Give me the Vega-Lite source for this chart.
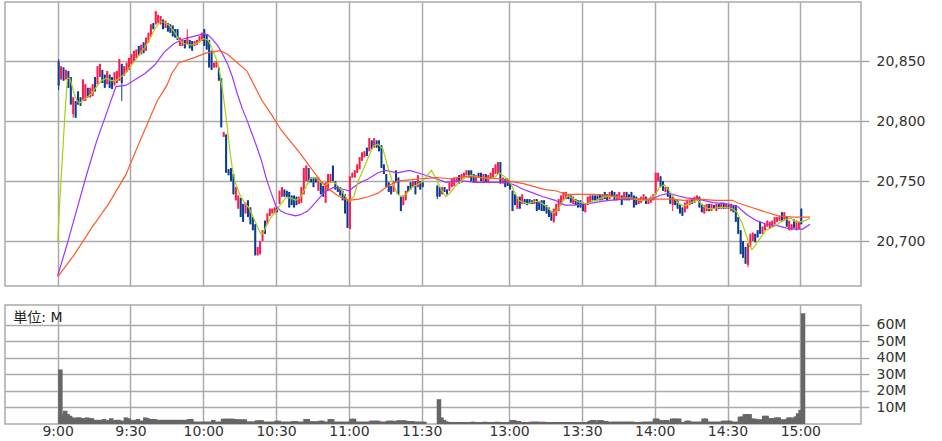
{
  "$schema": "https://vega.github.io/schema/vega-lite/v6.json",
  "padding": {"left": 4, "top": 1, "right": 0, "bottom": 0},
  "background": "white",
  "data": {
    "values": "t,o,h,l,c,v\n0,20850,20852,20826,20830,33\n1,20835,20846,20835,20846,6\n2,20845,20845,20834,20834,8\n3,20835,20843,20835,20843,6\n4,20842,20842,20828,20828,5\n5,20837,20837,20814,20814,4\n6,20806,20820,20803,20820,3.5\n7,20817,20817,20803,20803,4\n8,20825,20825,20814,20814,4\n9,20820,20820,20813,20813,3.5\n10,20817,20835,20817,20835,3.5\n11,20817,20831,20817,20831,4\n12,20828,20828,20820,20820,3.5\n13,20820,20828,20820,20828,3.5\n14,20821,20831,20821,20831,2.5\n15,20837,20837,20825,20825,2.5\n16,20831,20846,20831,20846,2.5\n17,20837,20848,20837,20848,2.5\n18,20843,20843,20832,20832,3\n19,20839,20839,20828,20828,2\n20,20831,20842,20831,20842,2.5\n21,20839,20839,20828,20828,3.5\n22,20837,20837,20827,20827,2\n23,20830,20841,20830,20841,2.5\n24,20832,20842,20832,20842,2.5\n25,20834,20852,20834,20852,2\n26,20848,20848,20817,20832,2\n27,20838,20846,20838,20846,4\n28,20841,20849,20841,20849,3.5\n29,20843,20853,20843,20853,2.5\n30,20848,20856,20848,20856,2\n31,20850,20859,20850,20859,2.5\n32,20853,20860,20853,20860,3\n33,20863,20863,20855,20855,2\n34,20856,20864,20856,20864,2\n35,20866,20866,20857,20857,4\n36,20859,20870,20859,20870,3.5\n37,20866,20874,20866,20874,3\n38,20871,20881,20871,20881,3\n39,20882,20882,20877,20877,3\n40,20881,20892,20881,20892,2.5\n41,20882,20889,20882,20889,2.5\n42,20881,20888,20881,20888,2.5\n43,20885,20885,20877,20877,2.5\n44,20878,20884,20878,20884,2.5\n45,20882,20882,20875,20875,2.5\n46,20881,20881,20874,20874,2.5\n47,20880,20880,20871,20871,2.5\n48,20877,20877,20870,20870,2.5\n49,20877,20877,20868,20868,2.5\n50,20863,20870,20863,20870,2.5\n51,20863,20868,20863,20868,2.5\n52,20868,20868,20861,20861,2.5\n53,20864,20877,20864,20870,3\n54,20868,20868,20861,20861,3\n55,20867,20867,20859,20859,1.4\n56,20863,20867,20863,20867,1.4\n57,20864,20868,20864,20868,1.4\n58,20866,20871,20866,20871,1.4\n59,20867,20874,20867,20874,1.4\n60,20877,20877,20863,20863,1.4\n61,20873,20873,20860,20860,1.4\n62,20868,20868,20845,20845,1.4\n63,20859,20859,20843,20843,2.4\n64,20845,20849,20845,20849,1.4\n65,20845,20850,20845,20850,1.4\n66,20845,20845,20834,20834,1.4\n67,20836,20836,20795,20795,3.2\n68,20787,20791,20787,20791,3.2\n69,20789,20789,20757,20757,3.2\n70,20760,20760,20755,20755,3.2\n71,20761,20761,20750,20750,3.2\n72,20756,20756,20739,20739,3\n73,20734,20745,20734,20745,2.8\n74,20727,20738,20727,20738,2.8\n75,20736,20736,20720,20720,2.8\n76,20731,20731,20716,20716,2.8\n77,20723,20732,20723,20732,1.5\n78,20734,20734,20720,20720,1.5\n79,20728,20728,20714,20714,1.5\n80,20720,20720,20709,20709,1.5\n81,20714,20714,20688,20688,2.2\n82,20688,20695,20688,20695,2.2\n83,20689,20700,20689,20700,2.2\n84,20700,20709,20700,20709,1.4\n85,20717,20717,20706,20706,1.4\n86,20714,20723,20714,20723,1.4\n87,20721,20727,20721,20727,1.4\n88,20723,20727,20723,20727,1.4\n89,20723,20728,20723,20728,2\n90,20728,20728,20724,20724,2\n91,20731,20742,20731,20742,1.4\n92,20737,20745,20737,20745,1.4\n93,20743,20743,20737,20737,1.4\n94,20742,20742,20737,20737,1.4\n95,20741,20741,20728,20728,1.4\n96,20738,20738,20730,20730,1.8\n97,20738,20738,20728,20728,1.8\n98,20737,20737,20730,20730,1.4\n99,20731,20737,20731,20737,1.4\n100,20732,20745,20732,20745,1.4\n101,20739,20761,20739,20761,3\n102,20750,20763,20750,20763,3\n103,20761,20761,20749,20749,1.6\n104,20753,20753,20749,20749,1.6\n105,20753,20753,20745,20745,1.6\n106,20753,20753,20749,20749,1.6\n107,20742,20753,20742,20753,2\n108,20749,20749,20739,20739,2\n109,20746,20746,20737,20737,1.4\n110,20732,20749,20732,20749,1.4\n111,20742,20756,20742,20756,3\n112,20749,20756,20749,20756,3\n113,20763,20763,20750,20750,1.4\n114,20750,20750,20743,20743,1.4\n115,20746,20746,20741,20741,1.4\n116,20745,20745,20738,20738,1.4\n117,20742,20742,20734,20734,1.4\n118,20739,20739,20723,20723,1.4\n119,20734,20734,20711,20711,1.4\n120,20710,20754,20710,20754,3.2\n121,20753,20757,20753,20757,3.2\n122,20753,20759,20753,20759,1.4\n123,20757,20764,20757,20764,1.4\n124,20760,20770,20760,20770,1.4\n125,20767,20774,20767,20774,1.4\n126,20770,20775,20770,20775,1.4\n127,20778,20778,20771,20771,1.4\n128,20775,20786,20775,20786,2\n129,20784,20784,20777,20777,2\n130,20778,20786,20778,20786,2\n131,20784,20784,20778,20778,2\n132,20784,20784,20775,20775,1.4\n133,20780,20780,20761,20761,1.4\n134,20764,20764,20756,20756,1.4\n135,20756,20756,20745,20745,2\n136,20749,20749,20741,20741,2\n137,20746,20746,20739,20739,2\n138,20741,20750,20741,20750,1.4\n139,20759,20759,20749,20749,2.2\n140,20753,20753,20739,20739,2.2\n141,20737,20737,20725,20725,2.2\n142,20730,20738,20730,20738,2.2\n143,20734,20742,20734,20742,1.8\n144,20746,20746,20741,20741,1.8\n145,20749,20749,20743,20743,1.8\n146,20745,20750,20745,20750,1.4\n147,20750,20750,20739,20739,1.4\n148,20745,20755,20745,20755,1.4\n149,20750,20750,20743,20743,1.4\n150,20749,20749,20745,20745,1.4\n156,20746,20747,20735,20737,15\n157,20745,20745,20737,20737,4\n158,20739,20745,20739,20745,2.5\n159,20745,20745,20741,20741,1.6\n160,20743,20743,20739,20739,1.2\n161,20742,20749,20742,20749,1.2\n162,20745,20752,20745,20752,1.2\n163,20746,20753,20746,20753,1.2\n164,20749,20753,20749,20753,1.2\n165,20755,20755,20748,20748,1.2\n166,20749,20756,20749,20756,1.2\n167,20753,20757,20753,20757,1.2\n168,20755,20759,20755,20759,1.2\n169,20759,20759,20753,20753,1.2\n170,20759,20759,20750,20750,1.4\n171,20756,20756,20749,20749,1.2\n172,20749,20755,20749,20755,1.2\n173,20757,20757,20753,20753,1.2\n174,20757,20757,20750,20750,1.2\n175,20749,20756,20749,20756,1.4\n176,20756,20756,20749,20749,1.2\n177,20749,20755,20749,20755,1.2\n178,20752,20757,20752,20757,1.2\n179,20753,20761,20753,20761,1.2\n180,20756,20764,20756,20764,1.4\n181,20756,20766,20756,20766,1.2\n182,20766,20766,20748,20748,1.2\n183,20748,20753,20748,20753,1.2\n184,20752,20752,20745,20745,1.2\n185,20752,20752,20746,20746,1.2\n186,20750,20750,20743,20743,2.4\n187,20742,20742,20725,20725,2.4\n188,20739,20739,20730,20730,1.8\n189,20727,20737,20727,20737,1.8\n190,20737,20737,20727,20727,1.2\n191,20731,20739,20731,20739,1.2\n192,20735,20735,20731,20731,1.2\n193,20735,20735,20730,20730,1.2\n194,20735,20735,20731,20731,1.4\n195,20734,20734,20731,20731,1.4\n196,20731,20735,20731,20735,1.4\n197,20735,20735,20725,20725,1.4\n198,20733,20733,20726,20726,1.2\n199,20734,20734,20725,20725,1.4\n200,20734,20734,20725,20725,1.2\n201,20730,20730,20723,20723,1.2\n202,20728,20728,20720,20720,1.2\n203,20725,20725,20717,20717,1.2\n204,20716,20727,20715,20727,1.2\n205,20721,20731,20721,20731,1.2\n206,20725,20735,20725,20735,1.2\n207,20730,20738,20730,20738,1.2\n208,20734,20741,20734,20741,1.2\n209,20735,20741,20735,20741,1.2\n210,20739,20739,20735,20735,1.2\n211,20738,20738,20732,20732,1.2\n212,20731,20737,20731,20737,1.2\n213,20735,20735,20730,20730,1.2\n214,20734,20734,20728,20728,1.2\n215,20734,20734,20728,20728,1.2\n216,20732,20732,20725,20725,1.2\n217,20724,20731,20724,20731,1.2\n218,20730,20737,20730,20737,1.8\n219,20732,20738,20732,20738,2.4\n220,20738,20738,20734,20734,2.4\n221,20738,20738,20734,20734,1.4\n222,20738,20738,20734,20734,2.4\n223,20739,20739,20734,20734,2.4\n224,20734,20739,20734,20739,1.8\n225,20741,20741,20735,20735,1.8\n226,20739,20739,20734,20734,1.2\n227,20735,20741,20735,20741,1.4\n228,20742,20742,20737,20737,1.4\n229,20741,20741,20734,20734,1.4\n230,20734,20739,20734,20739,1.4\n231,20735,20741,20735,20741,1.4\n232,20738,20738,20730,20730,1.4\n233,20734,20741,20734,20741,1.4\n234,20741,20741,20734,20734,1.4\n235,20739,20739,20734,20734,1.4\n236,20741,20741,20735,20735,1.4\n237,20738,20738,20728,20728,1.2\n238,20737,20737,20730,20730,1.2\n239,20731,20735,20731,20735,1.2\n240,20732,20737,20732,20737,1.4\n241,20734,20739,20734,20739,1.4\n242,20737,20737,20731,20731,1.4\n243,20731,20735,20731,20735,1.4\n244,20732,20737,20732,20737,1.4\n245,20734,20739,20734,20739,3.3\n246,20739,20757,20739,20757,3.3\n247,20750,20757,20750,20757,2.4\n248,20754,20754,20745,20745,1.8\n249,20750,20750,20742,20742,2.4\n250,20741,20745,20741,20745,2.4\n251,20745,20745,20737,20737,1.4\n252,20739,20739,20731,20731,3.3\n253,20730,20737,20725,20737,3.3\n254,20735,20735,20730,20730,3.3\n255,20734,20734,20727,20727,3.3\n256,20731,20731,20723,20723,1.2\n257,20728,20728,20721,20721,1.2\n258,20724,20732,20724,20732,2\n259,20727,20734,20727,20734,2\n260,20730,20734,20730,20734,1.4\n261,20735,20735,20731,20731,1.4\n262,20732,20737,20732,20737,1.4\n263,20734,20738,20734,20738,1.4\n264,20737,20737,20728,20728,1.4\n265,20731,20731,20724,20724,3.3\n266,20723,20730,20723,20730,3.3\n267,20725,20731,20725,20731,1.4\n268,20731,20731,20725,20725,1.4\n269,20725,20731,20725,20731,1.4\n270,20730,20730,20727,20727,1.4\n271,20725,20731,20725,20731,1.4\n272,20731,20731,20727,20727,1.4\n273,20727,20732,20727,20732,2\n274,20732,20732,20727,20727,2\n275,20727,20731,20727,20731,2\n276,20730,20730,20727,20727,2\n277,20725,20731,20725,20731,1.4\n278,20730,20730,20724,20724,1.4\n279,20730,20730,20716,20716,1.4\n280,20720,20720,20706,20706,4.5\n281,20709,20709,20689,20689,4.5\n282,20700,20700,20686,20686,6\n283,20695,20695,20681,20681,6\n284,20680,20698,20678,20698,6\n285,20695,20706,20695,20706,3.3\n286,20700,20707,20700,20707,3.3\n287,20706,20706,20699,20699,2.8\n288,20709,20709,20703,20703,2.8\n289,20716,20716,20706,20706,2.8\n290,20706,20712,20706,20712,5\n291,20709,20714,20709,20714,5\n292,20712,20717,20712,20717,3.5\n293,20710,20716,20710,20716,3.5\n294,20712,20717,20712,20717,3.5\n295,20714,20720,20714,20720,4\n296,20716,20720,20716,20720,4\n297,20717,20721,20717,20721,2.8\n298,20724,20724,20717,20717,2.8\n299,20718,20724,20718,20724,2.8\n300,20720,20720,20712,20712,4\n301,20709,20717,20709,20717,4\n302,20709,20714,20709,20714,3.3\n303,20718,20718,20711,20711,4.6\n304,20709,20717,20709,20717,6.5\n305,20710,20716,20710,20716,8.5\n306,20727,20727,20714,20714,67",
    "format": {"type": "csv", "parse": {"t": "number", "o": "number", "h": "number", "l": "number", "c": "number", "v": "number"}}
  },
  "spacing": 17,
  "vconcat": [
    {
      "width": 856,
      "height": 284,
      "encoding": {
        "x": {
          "field": "t", "type": "quantitative",
          "scale": {"domain": [-21.7, 331.0], "nice": false, "zero": false, "padding": 0},
          "axis": {"values": [0, 30, 60, 90, 120, 150, 186, 216, 246, 276, 306], "labels": false, "ticks": false, "domain": false, "grid": true, "title": null}
        }
      },
      "layer": [
        {
          "mark": {"type": "rule", "xOffset": 1, "strokeWidth": 1},
          "encoding": {
            "y": {
              "field": "l", "type": "quantitative",
              "scale": {"domain": [20662.4, 20899.7], "nice": false, "zero": false, "padding": 0},
              "axis": {"orient": "right", "values": [20700, 20750, 20800, 20850], "labelExpr": "format(datum.value, ',')", "tickSize": 8, "labelPadding": 7, "grid": true, "title": null, "labelOverlap": false}
            },
            "y2": {"field": "h"},
            "color": {"condition": {"test": "datum.c >= datum.o", "value": "#ff1a4a"}, "value": "#0b3a94"}
          }
        },
        {
          "mark": {"type": "bar", "size": 2, "xOffset": 1},
          "encoding": {
            "y": {
              "field": "o", "type": "quantitative",
              "axis": {"orient": "right", "values": [20700, 20750, 20800, 20850], "labelExpr": "format(datum.value, ',')", "tickSize": 8, "labelPadding": 7, "grid": true, "title": null, "labelOverlap": false}
            },
            "y2": {"field": "c"},
            "color": {"condition": {"test": "datum.c >= datum.o", "value": "#ff1a4a"}, "value": "#0b3a94"}
          }
        },
        {
          "data": {
            "values": "t,s,p\n0,MA25,20671\n4,MA25,20698\n8,MA25,20727\n12,MA25,20756\n16,MA25,20783\n20,MA25,20806\n24,MA25,20829\n28,MA25,20830\n32,MA25,20835\n36,MA25,20840\n40,MA25,20847\n44,MA25,20858\n48,MA25,20865\n52,MA25,20869\n56,MA25,20871\n60,MA25,20873\n62,MA25,20872\n64,MA25,20868\n66,MA25,20863\n68,MA25,20856\n70,MA25,20848\n72,MA25,20837\n74,MA25,20823\n76,MA25,20811\n78,MA25,20801\n80,MA25,20790\n82,MA25,20779\n84,MA25,20767\n86,MA25,20752\n88,MA25,20740\n90,MA25,20729\n92,MA25,20725\n94,MA25,20723\n96,MA25,20722\n98,MA25,20721\n100,MA25,20722\n103,MA25,20725\n107,MA25,20734\n110,MA25,20741\n114,MA25,20745\n118,MA25,20743\n120,MA25,20742\n124,MA25,20748\n128,MA25,20752\n132,MA25,20757\n135,MA25,20759\n140,MA25,20757\n145,MA25,20759\n150,MA25,20756\n156,MA25,20752\n160,MA25,20749\n164,MA25,20750\n168,MA25,20750\n172,MA25,20749\n176,MA25,20749\n180,MA25,20749\n185,MA25,20749\n188,MA25,20747\n192,MA25,20743\n196,MA25,20740\n200,MA25,20737\n205,MA25,20734\n209,MA25,20730\n213,MA25,20730\n217,MA25,20731\n221,MA25,20732\n227,MA25,20734\n234,MA25,20735\n240,MA25,20735\n245,MA25,20735\n248,MA25,20738\n252,MA25,20740\n255,MA25,20738\n259,MA25,20736\n264,MA25,20735\n270,MA25,20732\n276,MA25,20731\n280,MA25,20729\n284,MA25,20722\n288,MA25,20717\n292,MA25,20714\n296,MA25,20713\n300,MA25,20711\n304,MA25,20710\n307,MA25,20710\n310,MA25,20714\n0,MA5,20699\n1,MA5,20737\n2,MA5,20772\n3,MA5,20806\n4,MA5,20836\n5,MA5,20836\n6,MA5,20829\n7,MA5,20822\n8,MA5,20817\n9,MA5,20815\n10,MA5,20817\n12,MA5,20820\n14,MA5,20823\n16,MA5,20829\n18,MA5,20834\n20,MA5,20836\n22,MA5,20834\n24,MA5,20834\n26,MA5,20837\n28,MA5,20840\n30,MA5,20846\n32,MA5,20851\n34,MA5,20857\n36,MA5,20862\n38,MA5,20869\n40,MA5,20877\n42,MA5,20883\n44,MA5,20883\n46,MA5,20880\n48,MA5,20875\n50,MA5,20868\n52,MA5,20865\n54,MA5,20864\n56,MA5,20864\n58,MA5,20866\n60,MA5,20869\n62,MA5,20868\n64,MA5,20859\n66,MA5,20849\n67,MA5,20838\n68,MA5,20825\n69,MA5,20810\n70,MA5,20793\n71,MA5,20775\n72,MA5,20760\n73,MA5,20750\n75,MA5,20739\n77,MA5,20732\n79,MA5,20727\n81,MA5,20718\n83,MA5,20709\n84,MA5,20705\n85,MA5,20708\n86,MA5,20713\n88,MA5,20720\n90,MA5,20725\n92,MA5,20731\n94,MA5,20736\n96,MA5,20736\n98,MA5,20734\n100,MA5,20736\n102,MA5,20744\n104,MA5,20752\n106,MA5,20753\n108,MA5,20750\n110,MA5,20746\n112,MA5,20749\n114,MA5,20749\n116,MA5,20745\n118,MA5,20739\n120,MA5,20733\n122,MA5,20737\n124,MA5,20751\n126,MA5,20760\n128,MA5,20770\n130,MA5,20779\n132,MA5,20781\n134,MA5,20777\n136,MA5,20762\n138,MA5,20749\n140,MA5,20739\n142,MA5,20737\n144,MA5,20740\n146,MA5,20745\n148,MA5,20747\n150,MA5,20749\n154,MA5,20759\n156,MA5,20752\n158,MA5,20743\n160,MA5,20737\n162,MA5,20741\n164,MA5,20746\n166,MA5,20750\n168,MA5,20753\n170,MA5,20755\n172,MA5,20754\n174,MA5,20753\n176,MA5,20753\n178,MA5,20752\n180,MA5,20753\n182,MA5,20757\n184,MA5,20754\n186,MA5,20751\n188,MA5,20742\n190,MA5,20734\n192,MA5,20732\n194,MA5,20731\n196,MA5,20733\n198,MA5,20733\n200,MA5,20731\n202,MA5,20728\n204,MA5,20723\n206,MA5,20726\n208,MA5,20733\n210,MA5,20738\n212,MA5,20736\n214,MA5,20733\n216,MA5,20732\n218,MA5,20731\n220,MA5,20733\n222,MA5,20734\n224,MA5,20736\n226,MA5,20737\n228,MA5,20737\n230,MA5,20737\n232,MA5,20736\n234,MA5,20736\n236,MA5,20736\n238,MA5,20735\n240,MA5,20734\n242,MA5,20734\n244,MA5,20735\n246,MA5,20738\n248,MA5,20745\n250,MA5,20747\n252,MA5,20742\n254,MA5,20736\n256,MA5,20731\n258,MA5,20729\n260,MA5,20731\n262,MA5,20733\n264,MA5,20734\n266,MA5,20729\n268,MA5,20727\n270,MA5,20727\n272,MA5,20728\n274,MA5,20728\n276,MA5,20728\n278,MA5,20727\n280,MA5,20724\n281,MA5,20719\n282,MA5,20715\n283,MA5,20709\n284,MA5,20703\n285,MA5,20697\n286,MA5,20693\n287,MA5,20695\n288,MA5,20698\n290,MA5,20704\n292,MA5,20709\n294,MA5,20711\n296,MA5,20713\n298,MA5,20716\n300,MA5,20718\n302,MA5,20719\n304,MA5,20716\n306,MA5,20716\n308,MA5,20717\n310,MA5,20719\n0,MA50,20670\n7,MA50,20689\n14,MA50,20711\n21,MA50,20731\n28,MA50,20755\n34,MA50,20784\n41,MA50,20817\n45,MA50,20830\n47,MA50,20840\n50,MA50,20849\n56,MA50,20853\n61,MA50,20857\n67,MA50,20859\n70,MA50,20856\n74,MA50,20849\n78,MA50,20842\n80,MA50,20834\n84,MA50,20818\n88,MA50,20806\n92,MA50,20793\n96,MA50,20783\n100,MA50,20773\n104,MA50,20762\n108,MA50,20751\n112,MA50,20743\n116,MA50,20737\n120,MA50,20734\n124,MA50,20735\n128,MA50,20737\n132,MA50,20740\n136,MA50,20746\n140,MA50,20750\n145,MA50,20751\n150,MA50,20752\n156,MA50,20753\n162,MA50,20752\n168,MA50,20754\n175,MA50,20753\n182,MA50,20752\n186,MA50,20750\n192,MA50,20748\n197,MA50,20745\n201,MA50,20743\n205,MA50,20742\n210,MA50,20739\n216,MA50,20739\n221,MA50,20739\n227,MA50,20738\n234,MA50,20736\n240,MA50,20735\n246,MA50,20735\n253,MA50,20735\n258,MA50,20734\n264,MA50,20735\n271,MA50,20734\n278,MA50,20734\n280,MA50,20732\n286,MA50,20728\n292,MA50,20724\n297,MA50,20721\n303,MA50,20720\n310,MA50,20720",
            "format": {"type": "csv", "parse": {"t": "number", "p": "number"}}
          },
          "mark": {"type": "line", "strokeWidth": 1.2},
          "encoding": {
            "y": {
              "field": "p", "type": "quantitative",
              "axis": {"orient": "right", "values": [20700, 20750, 20800, 20850], "labelExpr": "format(datum.value, ',')", "tickSize": 8, "labelPadding": 7, "grid": true, "title": null, "labelOverlap": false}
            },
            "color": {"field": "s", "type": "nominal", "scale": {"domain": ["MA5", "MA25", "MA50"], "range": ["#a6d10f", "#a033ff", "#ff5a28"]}, "legend": null}
          }
        }
      ]
    },
    {
      "width": 856,
      "height": 119,
      "encoding": {
        "x": {
          "field": "t", "type": "quantitative",
          "scale": {"domain": [-21.7, 331.0], "nice": false, "zero": false, "padding": 0},
          "axis": {
            "values": [0, 30, 60, 90, 120, 150, 186, 216, 246, 276, 306],
            "labelExpr": "datum.value==0?'9:00':datum.value==30?'9:30':datum.value==60?'10:00':datum.value==90?'10:30':datum.value==120?'11:00':datum.value==150?'11:30':datum.value==186?'13:00':datum.value==216?'13:30':datum.value==246?'14:00':datum.value==276?'14:30':'15:00'",
            "ticks": false, "domain": false, "grid": true, "title": null, "labelPadding": 0, "labelFlush": false, "labelOverlap": false
          }
        }
      },
      "layer": [
        {
          "mark": {"type": "bar", "size": 4.5, "xOffset": 2.7, "color": "#666666"},
          "encoding": {
            "y": {
              "field": "v", "type": "quantitative", "stack": null,
              "scale": {"domain": [0, 72], "nice": false, "zero": true, "padding": 0},
              "axis": {"orient": "right", "values": [10, 20, 30, 40, 50, 60], "labelExpr": "datum.value + 'M'", "tickSize": 8, "labelPadding": 7, "grid": true, "title": null, "labelOverlap": false}
            },
            "order": {"field": "v", "type": "quantitative", "sort": "ascending"}
          }
        },
        {
          "data": {"values": [{"t": -18.3, "v": 64.3, "label": "単位: M"}]},
          "mark": {"type": "text", "align": "left", "baseline": "middle", "fontSize": 14, "font": "DejaVu Sans, Noto Sans CJK JP", "color": "#222222"},
          "encoding": {
            "y": {
              "field": "v", "type": "quantitative",
              "axis": {"orient": "right", "values": [10, 20, 30, 40, 50, 60], "labelExpr": "datum.value + 'M'", "tickSize": 8, "labelPadding": 7, "grid": true, "title": null, "labelOverlap": false}
            },
            "text": {"field": "label"}
          }
        }
      ]
    }
  ],
  "config": {
    "view": {"stroke": "#aaaaaa", "strokeWidth": 1.5},
    "axis": {"gridColor": "#aaaaaa", "gridWidth": 1.5, "gridOpacity": 1, "domain": false, "tickColor": "#aaaaaa", "tickWidth": 1.5, "labelFont": "DejaVu Sans", "labelFontSize": 14, "labelColor": "#333333"},
    "font": "DejaVu Sans"
  }
}
